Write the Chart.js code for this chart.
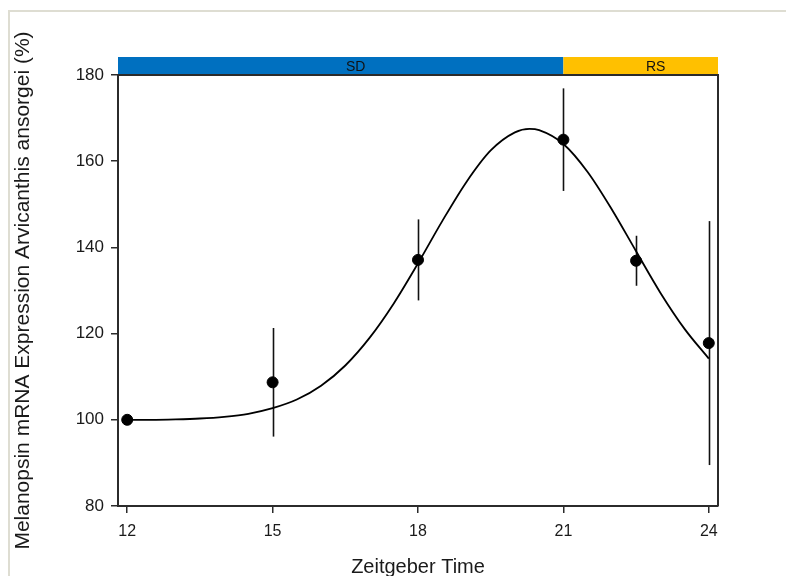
<!DOCTYPE html>
<html>
<head>
<meta charset="utf-8">
<script src="https://cdn.jsdelivr.net/npm/chart.js@4.4.0/dist/chart.umd.min.js"></script>
<style>
    html, body { margin: 0; padding: 0; background: #fff; }
    #wrap { width: 786px; height: 576px; }
</style>
</head>
<body>
<div id="wrap"><canvas id="melanopsinChart" width="786" height="576"></canvas></div>
<script>
// sampling times (ZT) with mean expression and error
var zeitgeberTimes = [12, 15, 18, 21, 22.5, 24];
var meanExpression = [100, 108.7, 137.1, 165.0, 136.9, 117.8];
var expressionError = [0, 12.6, 9.4, 11.9, 5.8, 28.3];

// fitted curve through the means
var fitTimes = [12, 12.5, 13, 13.5, 14, 14.5, 15, 15.5, 16, 16.5, 17, 17.5, 18, 18.5, 19, 19.5, 20, 20.3, 20.5, 21, 21.5, 22, 22.5, 23, 23.5, 24];
var fitExpression = [100, 100, 100.1, 100.3, 100.7, 101.4, 102.7, 104.7, 107.9, 112.6, 119.0, 127.0, 136.3, 146.1, 155.2, 162.5, 166.7, 167.5, 167.2, 164.0, 157.5, 148.8, 139.1, 129.5, 121.1, 114.2];

var xTickValues = [12, 15, 18, 21, 24];
var yTickValues = [80, 100, 120, 140, 160, 180];

// light regime bar above the plot
var phaseNames = ['SD', 'RS'];
var phaseEdges = [11.81, 21, 24.19];
var phaseColours = ['#0070c0', '#ffc000'];

var fontFamily = "'Liberation Sans', Arial, sans-serif";
var inkColour = '#1a1a1a';

var meanPoints = [];
for (var i = 0; i < zeitgeberTimes.length; i++) {
    meanPoints.push({x: zeitgeberTimes[i], y: meanExpression[i]});
}
var fitPoints = [];
for (var j = 0; j < fitTimes.length; j++) {
    fitPoints.push({x: fitTimes[j], y: fitExpression[j]});
}

var decorPlugin = {
    id: 'decor',
    beforeDraw: function(chart) {
        var c = chart.ctx;
        c.save();
        c.strokeStyle = '#deddd2';
        c.lineWidth = 2;
        c.strokeRect(9, 11, 820, 620);
        c.restore();
    },
    beforeDatasetsDraw: function(chart) {
        // vertical error bars
        var c = chart.ctx;
        var xs = chart.scales.x, ys = chart.scales.y;
        c.save();
        c.strokeStyle = '#111';
        c.lineWidth = 1.6;
        for (var i = 0; i < zeitgeberTimes.length; i++) {
            if (!expressionError[i]) continue;
            var px = Math.round(xs.getPixelForValue(zeitgeberTimes[i])) + 0.5;
            c.beginPath();
            c.moveTo(px, ys.getPixelForValue(meanExpression[i] + expressionError[i]));
            c.lineTo(px, ys.getPixelForValue(meanExpression[i] - expressionError[i]));
            c.stroke();
        }
        c.restore();
    },
    afterDraw: function(chart) {
        var c = chart.ctx;
        var area = chart.chartArea;
        var xs = chart.scales.x;
        c.save();
        // phase bar
        var barHeight = 18;
        for (var i = 0; i < phaseNames.length; i++) {
            var x0 = xs.getPixelForValue(phaseEdges[i]);
            var x1 = xs.getPixelForValue(phaseEdges[i + 1]);
            c.fillStyle = phaseColours[i];
            c.fillRect(x0, area.top - barHeight, x1 - x0, barHeight);
            c.fillStyle = '#111';
            c.font = '14px ' + fontFamily;
            c.textAlign = 'center';
            c.textBaseline = 'middle';
            c.fillText(phaseNames[i], (x0 + x1) / 2 + 15, area.top - barHeight / 2 + 1);
        }
        // top and right sides of the frame
        c.strokeStyle = '#2b2b2b';
        c.lineWidth = 2;
        c.beginPath();
        c.moveTo(area.left, area.top);
        c.lineTo(area.right, area.top);
        c.lineTo(area.right, area.bottom);
        c.stroke();
        c.restore();
    }
};

var ctx = document.getElementById('melanopsinChart');

var myChart = new Chart(ctx, {
    type: 'scatter',
    data: {
        datasets: [{
            label: 'Mean',
            data: meanPoints,
            backgroundColor: '#000',
            borderColor: '#000',
            pointRadius: 5.5,
            pointHoverRadius: 5.5,
            order: 1
        }, {
            label: 'Fit',
            type: 'line',
            data: fitPoints,
            borderColor: '#000',
            borderWidth: 1.8,
            pointRadius: 0,
            cubicInterpolationMode: 'monotone',
            fill: false,
            order: 2
        }]
    },
    options: {
        responsive: false,
        animation: false,
        layout: {padding: {top: 75, right: 68, left: 0, bottom: 0}},
        plugins: {
            legend: {display: false},
            tooltip: {enabled: false}
        },
        scales: {
            x: {
                type: 'linear',
                min: phaseEdges[0],
                max: phaseEdges[phaseEdges.length - 1],
                afterBuildTicks: function(axis) {
                    axis.ticks = xTickValues.map(function(v) { return {value: v}; });
                },
                afterFit: function(axis) { axis.height = 70; },
                ticks: {color: inkColour, font: {family: fontFamily, size: 16}, padding: 9, maxRotation: 0},
                grid: {drawOnChartArea: false, drawTicks: true, tickLength: 7, color: '#2b2b2b', lineWidth: 1.5},
                border: {display: true, color: '#2b2b2b', width: 2},
                title: {
                    display: true,
                    text: 'Zeitgeber Time',
                    color: inkColour,
                    font: {family: fontFamily, size: 20, lineHeight: 1},
                    padding: {top: 0, bottom: -1}
                }
            },
            y: {
                min: 80,
                max: 180,
                afterBuildTicks: function(axis) {
                    axis.ticks = yTickValues.map(function(v) { return {value: v}; });
                },
                afterFit: function(axis) { axis.width = 118; },
                ticks: {color: inkColour, font: {family: fontFamily, size: 17}, padding: 7},
                grid: {drawOnChartArea: false, drawTicks: true, tickLength: 7, color: '#2b2b2b', lineWidth: 1.5},
                border: {display: true, color: '#2b2b2b', width: 2},
                title: {
                    display: true,
                    text: 'Melanopsin mRNA Expression Arvicanthis ansorgei (%)',
                    color: inkColour,
                    font: {family: fontFamily, size: 21, lineHeight: 1.2},
                    padding: {top: 11, bottom: 0}
                }
            }
        }
    },
    plugins: [decorPlugin]
});
</script>
</body>
</html>
